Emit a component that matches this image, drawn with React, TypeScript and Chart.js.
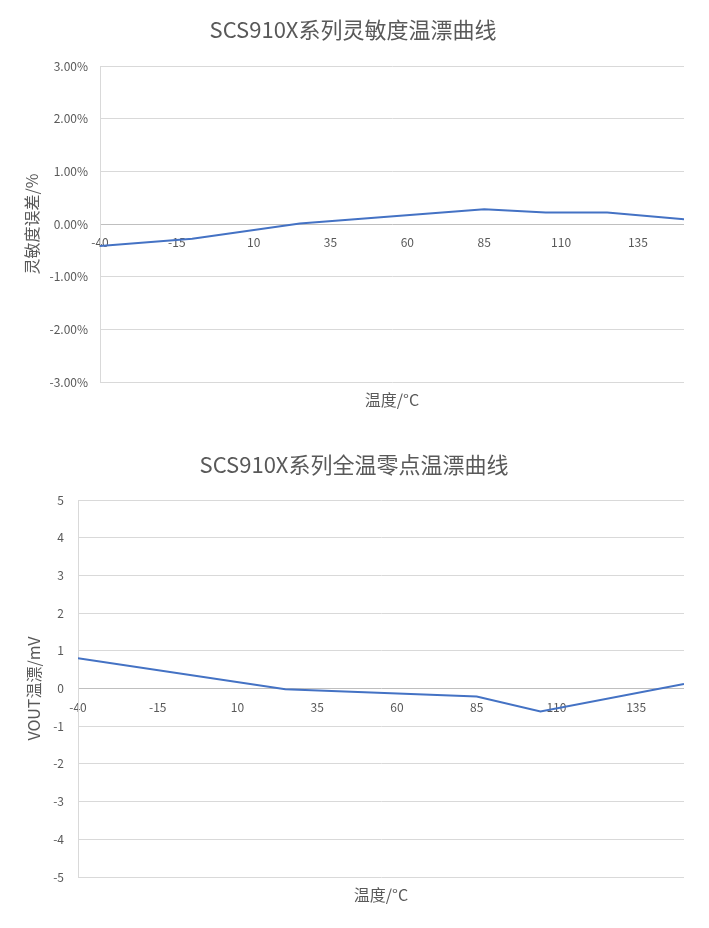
import React, { useEffect, useRef } from "react";
import { Chart, registerables } from "chart.js";

Chart.register(...registerables);

const FONT = "'Noto Sans CJK SC', 'Noto Sans', sans-serif";
const TEXT = "#595959";
const GRID = "#d9d9d9";
const ZERO = "#bfbfbf";
const LINE = "#4472C4";

// Shared x (temperature) axis
const xTickValues = [-40, -15, 10, 35, 60, 85, 110, 135];
const xMin = -40;
const xMax = 150;

// Chart 1: sensitivity error (%)
const title1 = "SCS910X系列灵敏度温漂曲线";
const yTitle1 = "灵敏度误差/%";
const xTitle = "温度/°C";
const sensTemps = [-40, -10, 25, 85, 105, 125, 150];
const sensErr = [-0.42, -0.28, 0.01, 0.28, 0.22, 0.22, 0.09];
const sensYTicks = [-3, -2, -1, 0, 1, 2, 3];

// Chart 2: zero-point drift (mV)
const title2 = "SCS910X系列全温零点温漂曲线";
const yTitle2 = "VOUT温漂/mV";
const zeroTemps = [-40, 25, 85, 105, 150];
const zeroDrift = [0.8, -0.02, -0.21, -0.61, 0.12];
const zeroYTicks = [-5, -4, -3, -2, -1, 0, 1, 2, 3, 4, 5];

const xTitlePlugin = {
  id: "xTitle",
  afterDraw(chart: any, _args: any, opts: any) {
    const { ctx, chartArea } = chart;
    ctx.save();
    ctx.font = `${opts.size}px ${FONT}`;
    ctx.fillStyle = TEXT;
    ctx.textAlign = "center";
    ctx.textBaseline = "middle";
    ctx.fillText(opts.text, (chartArea.left + chartArea.right) / 2, opts.y);
    ctx.restore();
  },
};

type Cfg = {
  title: string;
  yTitle: string;
  temps: number[];
  values: number[];
  yTicks: number[];
  yFmt: (v: number) => string;
  titlePadTop: number;
  titlePadBottom: number;
  padLeft: number;
  plotLeft: number;
  padBottom: number;
  yTickPad: number;
  xTickPad: number;
  xTitleY: number;
};

function makeChart(canvas: HTMLCanvasElement, c: Cfg) {
  return new Chart(canvas, {
    type: "line",
    data: {
      datasets: [
        {
          data: c.temps.map((t, i) => ({ x: t, y: c.values[i] })),
          borderColor: LINE,
          borderWidth: 2,
          pointRadius: 0,
          tension: 0,
          fill: false,
        },
      ],
    },
    options: {
      animation: false,
      responsive: false,
      maintainAspectRatio: false,
      layout: { padding: { left: c.padLeft, right: 25, top: 0, bottom: c.padBottom } },
      plugins: {
        legend: { display: false },
        tooltip: { enabled: false },
        title: {
          display: true,
          text: c.title,
          color: TEXT,
          font: { family: FONT, size: 22, weight: "normal" },
          padding: { top: c.titlePadTop, bottom: c.titlePadBottom },
        },
        xTitle: { text: xTitle, size: 16, y: c.xTitleY },
      } as any,
      scales: {
        x: {
          type: "linear",
          min: xMin,
          max: xMax,
          position: { y: 0 } as any,
          afterBuildTicks: (s: any) => {
            s.ticks = xTickValues.map((v) => ({ value: v }));
          },
          grid: { display: false, drawTicks: false },
          border: { display: false },
          ticks: {
            color: TEXT,
            font: { family: FONT, size: 12 },
            padding: c.xTickPad,
            maxRotation: 0,
            autoSkip: false,
          },
        },
        y: {
          type: "linear",
          min: c.yTicks[0],
          max: c.yTicks[c.yTicks.length - 1],
          afterBuildTicks: (s: any) => {
            s.ticks = c.yTicks.map((v) => ({ value: v }));
          },
          afterFit: (s: any) => {
            s.width = c.plotLeft - c.padLeft;
          },
          grid: {
            drawTicks: false,
            color: (ctx: any) => (ctx.tick && ctx.tick.value === 0 ? ZERO : GRID),
            lineWidth: 1,
          },
          border: { display: true, color: GRID },
          ticks: {
            color: TEXT,
            font: { family: FONT, size: 12 },
            padding: c.yTickPad,
            callback: (v: any) => c.yFmt(Number(v)),
          },
          title: {
            display: true,
            text: c.yTitle,
            color: TEXT,
            font: { family: FONT, size: 16 },
            padding: { top: 0, bottom: 0 },
          },
        },
      },
    },
    plugins: [xTitlePlugin as any],
  });
}

export default function App() {
  const ref1 = useRef<HTMLCanvasElement>(null);
  const ref2 = useRef<HTMLCanvasElement>(null);

  useEffect(() => {
    const c1 = makeChart(ref1.current!, {
      title: title1,
      yTitle: yTitle1,
      temps: sensTemps,
      values: sensErr,
      yTicks: sensYTicks,
      yFmt: (v) => v.toFixed(2) + "%",
      titlePadTop: 16.8,
      titlePadBottom: 22.8,
      padLeft: 22,
      plotLeft: 100,
      padBottom: 38,
      yTickPad: 12,
      xTickPad: 11,
      xTitleY: 400,
    });
    const c2 = makeChart(ref2.current!, {
      title: title2,
      yTitle: yTitle2,
      temps: zeroTemps,
      values: zeroDrift,
      yTicks: zeroYTicks,
      yFmt: (v) => String(v),
      titlePadTop: 31.8,
      titlePadBottom: 21.8,
      padLeft: 24,
      plotLeft: 78,
      padBottom: 51,
      yTickPad: 14,
      xTickPad: 12,
      xTitleY: 475,
    });
    return () => {
      c1.destroy();
      c2.destroy();
    };
  }, []);

  return (
    <div
      style={{
        position: "absolute",
        left: 0,
        top: 0,
        width: 709,
        height: 928,
        background: "#ffffff",
      }}
    >
      <canvas
        ref={ref1}
        width={709}
        height={420}
        style={{ position: "absolute", left: 0, top: 0, width: 709, height: 420 }}
      />
      <canvas
        ref={ref2}
        width={709}
        height={508}
        style={{ position: "absolute", left: 0, top: 420, width: 709, height: 508 }}
      />
    </div>
  );
}
